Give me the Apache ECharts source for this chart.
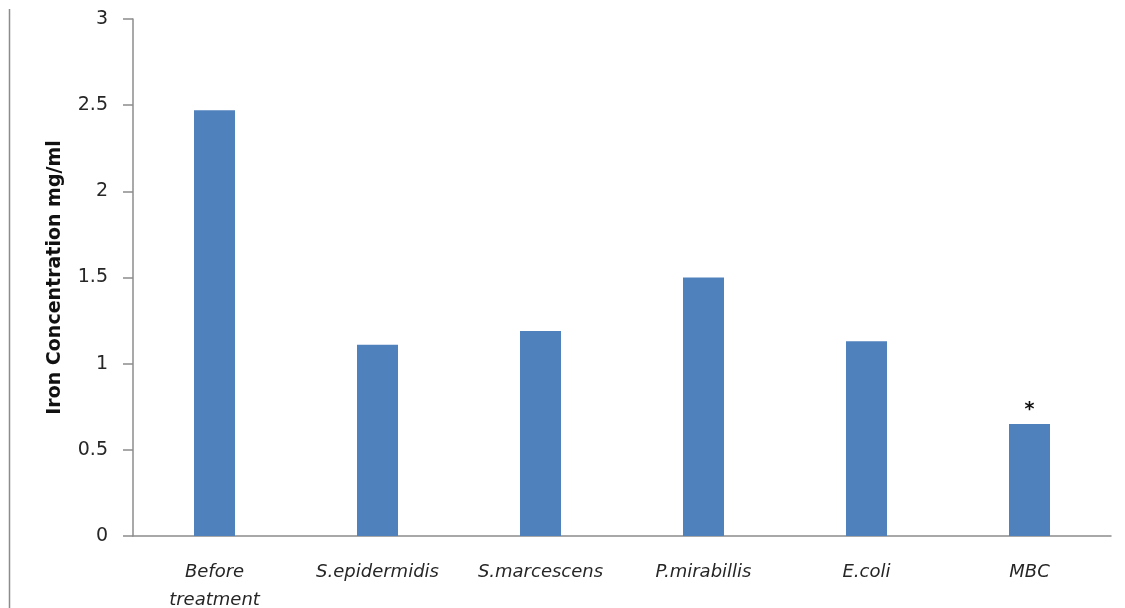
<!DOCTYPE html>
<html>
<head>
<meta charset="utf-8">
<script src="https://cdn.jsdelivr.net/npm/echarts@6/dist/echarts.min.js"></script>
<style>
  html, body { margin: 0; padding: 0; background: #fff; }
  #chart { width: 1125px; height: 608px; }
</style>
</head>
<body>
<div id="chart"></div>
<script>
// Iron concentration after treatment with each bacterial isolate
const categories = ['Before\ntreatment', 'S.epidermidis', 'S.marcescens', 'P.mirabillis', 'E.coli', 'MBC'];
const ironValues = [2.47, 1.11, 1.19, 1.50, 1.13, 0.65];
const significanceMarks = ['', '', '', '', '', '*'];
const yTicks = [0, 0.5, 1, 1.5, 2, 2.5, 3];

const chart = echarts.init(document.getElementById('chart'));

const fontFamily = '"DejaVu Sans", sans-serif';

chart.setOption({
  backgroundColor: '#ffffff',
  animation: false,
  grid: { left: 133, right: 14, top: 19, bottom: 72, outerBoundsMode: 'none', containLabel: false },
  xAxis: {
    type: 'category',
    data: categories,
    axisLine: { lineStyle: { color: '#8c8c8c', width: 1.5 } },
    axisTick: { show: false },
    axisLabel: {
      color: '#262626',
      fontStyle: 'italic',
      fontSize: 18,
      fontFamily: fontFamily,
      margin: 22,
      lineHeight: 28
    }
  },
  yAxis: {
    type: 'value',
    min: yTicks[0],
    max: yTicks[yTicks.length - 1],
    interval: 0.5,
    name: 'Iron Concentration mg/ml',
    nameLocation: 'middle',
    nameGap: 68,
    nameTextStyle: {
      color: '#111',
      fontWeight: 'bold',
      fontSize: 19,
      fontFamily: fontFamily
    },
    axisLine: { show: true, lineStyle: { color: '#8c8c8c', width: 1.5 } },
    axisTick: { show: true, length: 10, lineStyle: { color: '#8c8c8c', width: 1.5 } },
    splitLine: { show: false },
    axisLabel: {
      color: '#262626',
      fontSize: 19,
      fontFamily: fontFamily,
      margin: 25
    }
  },
  series: [{
    type: 'bar',
    data: ironValues,
    barWidth: 41,
    itemStyle: { color: '#4f81bd' },
    label: {
      show: true,
      position: 'top',
      distance: 4,
      color: '#111',
      fontSize: 19,
      fontWeight: 'bold',
      fontFamily: fontFamily,
      formatter: p => significanceMarks[p.dataIndex]
    }
  }],
  graphic: [{
    type: 'line',
    shape: { x1: 9.5, y1: 9, x2: 9.5, y2: 608 },
    style: { stroke: '#8c8c8c', lineWidth: 1.5 }
  }]
});
</script>
</body>
</html>
